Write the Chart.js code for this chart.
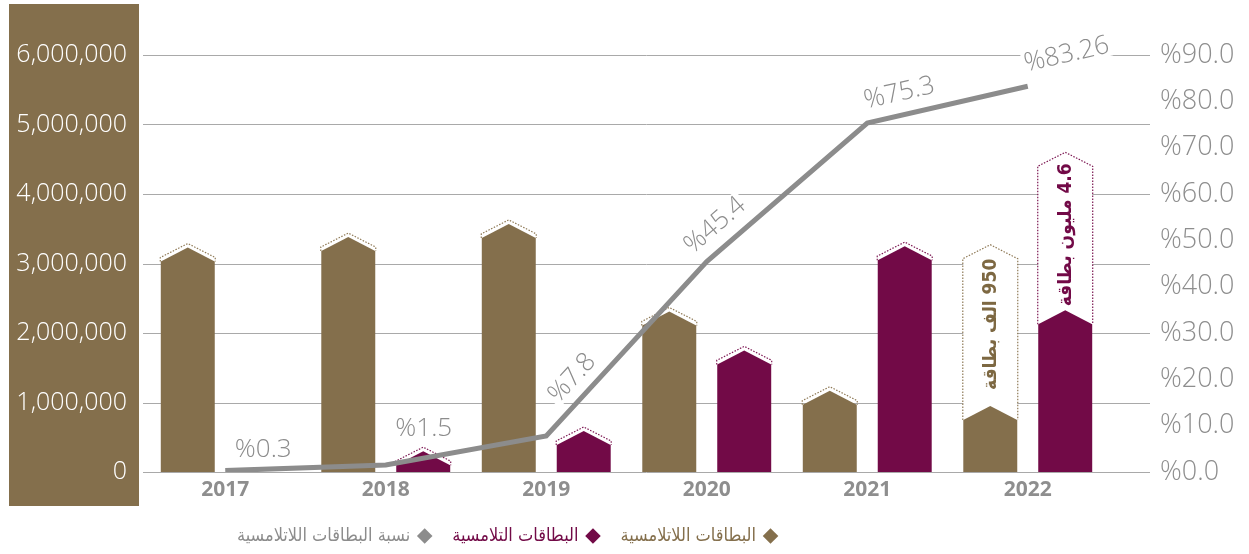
<!DOCTYPE html>
<html lang="ar">
<head>
<meta charset="utf-8">
<title>البطاقات اللاتلامسية</title>
<script src="https://cdn.jsdelivr.net/npm/chart.js@4.4.1/dist/chart.umd.min.js"></script>
<style>
  html, body { margin: 0; padding: 0; background: #fff; }
  .chart-box { position: relative; width: 1249px; height: 554px; }
</style>
</head>
<body>
<div class="chart-box"><canvas id="cards"></canvas></div>
<script>
// years along the bottom
const years = ['2017', '2018', '2019', '2020', '2021', '2022'];
// number of cards (left axis)
const contactlessCards = [3230000, 3380000, 3570000, 2310000, 1170000, 950000];
const contactCards = [0, 300000, 590000, 1750000, 3250000, 4600000];
// share of contactless cards in percent (right axis)
const contactlessShare = [0.3, 1.5, 7.8, 45.4, 75.3, 83.26];
// tall notes written on the 2022 bars
const contactlessNotes = ['', '', '', '', '', '950 الف بطاقة'];
const contactNotes = ['', '', '', '', '', '4.6 مليون بطاقة'];
const seriesNames = ['البطاقات اللاتلامسية', 'البطاقات التلامسية', 'نسبة البطاقات اللاتلامسية'];

const BROWN = '#846f4c', PURPLE = '#720a47', GREY = '#8c8c8c', GRID = '#a9a9a9';
const ROOF = 14, TRIM_GAP = 4;
const NOTE_FONT = "bold 19px 'DejaVu Sans Condensed', 'DejaVu Sans'";
const LEGEND_SHIFT_X = -118, LEGEND_SHIFT_Y = 9;

// where each percentage label sits relative to its point on the line
// seg: 0 = flat text, 1 = follow the next segment, -1 = follow the previous one
const shareLabelPlacement = [
  { seg: 0, along: 38, lift: 22 },
  { seg: 0, along: 38, lift: 37 },
  { seg: 1, along: 60, lift: 21 },
  { seg: 1, along: 30, lift: 23 },
  { seg: 1, along: 38, lift: 23 },
  { seg: -1, along: 45, lift: 23 }
];

function housePath(ctx, l, r, peak, shoulder, bottom) {
  ctx.beginPath();
  ctx.moveTo(l, bottom);
  ctx.lineTo(l, shoulder);
  ctx.lineTo((l + r) / 2, peak);
  ctx.lineTo(r, shoulder);
  ctx.lineTo(r, bottom);
}

function fillHouse(ctx, l, r, peak, shoulder, bottom, color) {
  housePath(ctx, l, r, peak, shoulder, bottom);
  ctx.closePath();
  ctx.fillStyle = color;
  ctx.fill();
}

function dottedHouse(ctx, l, r, peak, shoulder, bottom, color) {
  housePath(ctx, l, r, peak, shoulder, bottom);
  ctx.save();
  ctx.setLineDash([1.5, 1.5]);
  ctx.lineWidth = 1.2;
  ctx.strokeStyle = color;
  ctx.stroke();
  ctx.restore();
}

function drawBars(chart, meta, ds) {
  const ctx = chart.ctx;
  ctx.save();
  meta.data.forEach(function (el, i) {
    if (!ds.data[i]) return;
    const l = el.x - el.width / 2, r = el.x + el.width / 2;
    const note = ds.notes[i];
    if (!note) {
      fillHouse(ctx, l, r, el.y, el.y + ROOF, el.base, ds.backgroundColor);
      dottedHouse(ctx, l - 0.5, r + 0.5, el.y - TRIM_GAP, el.y + ROOF - TRIM_GAP, el.y + ROOF, ds.trimColor);
      return;
    }
    ctx.font = NOTE_FONT;
    const tw = ctx.measureText(note).width;
    let boxPeak, boxBottom, textTop, solidPeak;
    if (el.base - el.y > tw + 60) {
      // tall bar: the top of the bar is left open for the note
      boxPeak = el.y;
      textTop = el.y + 11;
      solidPeak = textTop + tw + 4;
      boxBottom = solidPeak + ROOF;
    } else {
      // short bar: the note stands on top of it
      solidPeak = el.y;
      boxBottom = el.y + ROOF;
      textTop = el.y - 16 - tw;
      boxPeak = textTop - ROOF;
    }
    fillHouse(ctx, l, r, boxPeak, boxPeak + ROOF, boxBottom, '#ffffff');
    dottedHouse(ctx, l - 0.5, r + 0.5, boxPeak, boxPeak + ROOF, boxBottom, ds.trimColor);
    fillHouse(ctx, l, r, solidPeak, solidPeak + ROOF, el.base, ds.backgroundColor);

    ctx.save();
    ctx.translate(el.x, textTop + tw / 2);
    ctx.rotate(-Math.PI / 2);
    ctx.font = NOTE_FONT;
    ctx.direction = 'rtl';
    ctx.textAlign = 'center';
    ctx.textBaseline = 'middle';
    ctx.fillStyle = ds.noteColor;
    ctx.fillText(note, 0, 1);
    ctx.restore();
  });
  ctx.restore();
}

function drawShareLabels(chart) {
  const ctx = chart.ctx;
  const pts = chart.getDatasetMeta(2).data;
  pts.forEach(function (p, i) {
    const place = shareLabelPlacement[i];
    let dx = 1, dy = 0;
    if (place.seg !== 0) {
      const q = pts[i + place.seg];
      const len = Math.hypot(q.x - p.x, q.y - p.y);
      dx = (q.x - p.x) / len * place.seg;
      dy = (q.y - p.y) / len * place.seg;
    }
    const cx = p.x + dx * place.along + dy * place.lift;
    const cy = p.y + dy * place.along - dx * place.lift;
    const text = '%' + contactlessShare[i];
    ctx.save();
    ctx.translate(cx, cy);
    ctx.rotate(Math.atan2(dy, dx));
    ctx.font = "300 26px 'Open Sans'";
    ctx.direction = 'ltr';
    ctx.textAlign = 'center';
    ctx.textBaseline = 'middle';
    const w = ctx.measureText(text).width;
    ctx.fillStyle = '#ffffff';
    ctx.fillRect(-w / 2 - 2, -12, w + 4, 24);
    ctx.fillStyle = GREY;
    ctx.fillText(text, 0, 1);
    ctx.restore();
  });
}

// value axes: no extra room reserved for half tick labels
function fitValueAxis(width) {
  return function (scale) {
    scale.width = width;
    scale.paddingTop = 0;
    scale.paddingBottom = 0;
  };
}

const decor = {
  id: 'decor',
  afterLayout(chart) {
    const lg = chart.legend;
    lg.left += LEGEND_SHIFT_X;
    lg.right += LEGEND_SHIFT_X;
    lg.top += LEGEND_SHIFT_Y;
    lg.bottom += LEGEND_SHIFT_Y;
  },
  beforeDraw(chart) {
    // brown panel behind the left axis
    const ctx = chart.ctx;
    ctx.save();
    ctx.fillStyle = BROWN;
    ctx.fillRect(9, 4, chart.scales.y.right - 15, 502);
    ctx.restore();
  },
  beforeDatasetsDraw(chart) {
    // horizontal grid, running on into the right axis gutter
    const ctx = chart.ctx, y = chart.scales.y, area = chart.chartArea;
    ctx.save();
    ctx.strokeStyle = GRID;
    ctx.lineWidth = 1;
    y.ticks.forEach(function (t) {
      const py = Math.round(y.getPixelForValue(t.value)) + 0.5;
      ctx.beginPath();
      ctx.moveTo(area.left - 2, py);
      ctx.lineTo(area.right + 42, py);
      ctx.stroke();
    });
    ctx.restore();
  },
  beforeDatasetDraw(chart, args) {
    if (args.meta.type !== 'bar') return;
    drawBars(chart, args.meta, chart.data.datasets[args.index]);
    return false;
  },
  afterDatasetsDraw(chart) {
    drawShareLabels(chart);
  }
};

const ctx = document.getElementById('cards').getContext('2d');
const cardsChart = new Chart(ctx, {
  type: 'bar',
  data: {
    labels: years,
    datasets: [{
      label: seriesNames[0],
      data: contactlessCards,
      notes: contactlessNotes,
      backgroundColor: BROWN,
      trimColor: '#8f7a57',
      noteColor: '#7d6842',
      borderWidth: 0,
      pointStyle: 'rectRot',
      categoryPercentage: 0.934,
      barPercentage: 0.72,
      yAxisID: 'y',
      order: 1
    }, {
      label: seriesNames[1],
      data: contactCards,
      notes: contactNotes,
      backgroundColor: PURPLE,
      trimColor: '#7c1752',
      noteColor: PURPLE,
      borderWidth: 0,
      pointStyle: 'rectRot',
      categoryPercentage: 0.934,
      barPercentage: 0.72,
      yAxisID: 'y',
      order: 1
    }, {
      type: 'line',
      label: seriesNames[2],
      data: contactlessShare,
      borderColor: GREY,
      backgroundColor: GREY,
      borderWidth: 5,
      pointRadius: 0,
      pointHoverRadius: 0,
      pointStyle: 'rectRot',
      tension: 0,
      yAxisID: 'y1',
      order: 0
    }]
  },
  options: {
    responsive: true,
    maintainAspectRatio: false,
    animation: false,
    layout: { padding: { top: 55, bottom: 8, left: 0, right: 0 } },
    plugins: {
      tooltip: { enabled: false },
      legend: {
        position: 'bottom',
        rtl: true,
        textDirection: 'rtl',
        labels: {
          usePointStyle: true,
          boxWidth: 11,
          boxHeight: 11,
          padding: 22,
          font: { family: "'DejaVu Sans Condensed', 'DejaVu Sans'", size: 18 },
          sort: function (a, b) { return a.datasetIndex - b.datasetIndex; },
          generateLabels: function (chart) {
            const colors = [BROWN, PURPLE, GREY];
            const items = Chart.defaults.plugins.legend.labels.generateLabels(chart);
            items.forEach(function (it) {
              it.fontColor = colors[it.datasetIndex];
              it.fillStyle = colors[it.datasetIndex];
              it.lineWidth = 0;
            });
            return items;
          }
        }
      }
    },
    scales: {
      x: {
        grid: { display: false, drawTicks: false },
        border: { display: false },
        ticks: {
          color: '#8e8e8e',
          padding: 5,
          font: { family: "'Open Sans'", size: 21, weight: 'bold' }
        },
        afterFit: function (scale) { scale.height = 24; }
      },
      y: {
        position: 'left',
        min: 0,
        max: 6000000,
        grid: { display: false, drawTicks: false },
        border: { display: false },
        ticks: {
          stepSize: 1000000,
          color: '#ffffff',
          padding: 18,
          font: { family: "'Open Sans'", size: 25, weight: '300' },
          callback: function (v) { return v.toLocaleString('en-US'); }
        },
        afterFit: fitValueAxis(145)
      },
      y1: {
        position: 'right',
        min: 0,
        max: 90,
        grid: { display: false, drawTicks: false },
        border: { display: false },
        ticks: {
          stepSize: 10,
          color: '#8e8e8e',
          padding: 52,
          font: { family: "'Open Sans'", size: 27, weight: '300' },
          callback: function (v) { return '%' + v.toFixed(1); }
        },
        afterFit: fitValueAxis(141)
      }
    }
  },
  plugins: [decor]
});
</script>
</body>
</html>
